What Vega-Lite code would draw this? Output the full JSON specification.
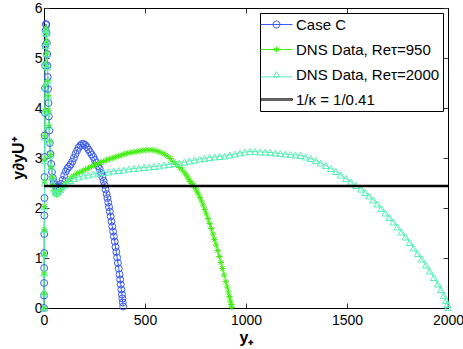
{
  "$schema": "https://vega.github.io/schema/vega-lite/v6.json",
  "width": 404,
  "height": 300,
  "autosize": "none",
  "padding": {"left": 44, "top": 8, "right": 15, "bottom": 41},
  "background": "white",
  "config": {
    "view": {"stroke": "black", "strokeWidth": 1},
    "font": "Liberation Sans",
    "axis": {
      "grid": false,
      "domainColor": "black",
      "tickColor": "#333333",
      "tickSize": -5,
      "labelFlush": false,
      "labelFont": "Liberation Sans",
      "labelFontSize": 14,
      "labelColor": "black",
      "titleFont": "Liberation Sans",
      "titleFontSize": 16,
      "titleFontWeight": "bold",
      "titleColor": "black"
    }
  },
  "data": {
    "values": [
      {"s":"C","x":0,"y":0},{"s":"C","x":0.25,"y":0.25},{"s":"C","x":0.5,"y":0.5},{"s":"C","x":0.8,"y":0.8},{"s":"C","x":1.1,"y":1.1},{"s":"C","x":1.5,"y":1.48},{"s":"C","x":1.9,"y":1.85},{"s":"C","x":2.3,"y":2.2},{"s":"C","x":2.8,"y":2.62},{"s":"C","x":3.3,"y":3.02},{"s":"C","x":3.9,"y":3.45},{"s":"C","x":4.6,"y":3.9},{"s":"C","x":5.4,"y":4.4},{"s":"C","x":6.3,"y":4.85},{"s":"C","x":7.3,"y":5.25},{"s":"C","x":8.4,"y":5.55},{"s":"C","x":9.6,"y":5.68},{"s":"C","x":11,"y":5.66},{"s":"C","x":12.5,"y":5.5},{"s":"C","x":14,"y":5.3},{"s":"C","x":15.5,"y":5.08},{"s":"C","x":17,"y":4.85},{"s":"C","x":18.5,"y":4.62},{"s":"C","x":20,"y":4.38},{"s":"C","x":22,"y":4.1},{"s":"C","x":24,"y":3.83},{"s":"C","x":26.5,"y":3.55},{"s":"C","x":29,"y":3.3},{"s":"C","x":32,"y":3.08},{"s":"C","x":35.5,"y":2.88},{"s":"C","x":39.5,"y":2.72},{"s":"C","x":44,"y":2.6},{"s":"C","x":49,"y":2.52},{"s":"C","x":55,"y":2.46},{"s":"C","x":62,"y":2.43},{"s":"C","x":69,"y":2.41},{"s":"C","x":76,"y":2.42},{"s":"C","x":84,"y":2.48},{"s":"C","x":92,"y":2.56},{"s":"C","x":100,"y":2.65},{"s":"C","x":108,"y":2.73},{"s":"C","x":116,"y":2.79},{"s":"C","x":124,"y":2.83},{"s":"C","x":132,"y":2.87},{"s":"C","x":140,"y":2.93},{"s":"C","x":148,"y":3.0},{"s":"C","x":156,"y":3.08},{"s":"C","x":164,"y":3.15},{"s":"C","x":172,"y":3.21},{"s":"C","x":180,"y":3.25},{"s":"C","x":188,"y":3.28},{"s":"C","x":196,"y":3.28},{"s":"C","x":204,"y":3.26},{"s":"C","x":212,"y":3.22},{"s":"C","x":220,"y":3.17},{"s":"C","x":228,"y":3.12},{"s":"C","x":236,"y":3.07},{"s":"C","x":244,"y":3.02},{"s":"C","x":252,"y":2.96},{"s":"C","x":260,"y":2.9},{"s":"C","x":268,"y":2.84},{"s":"C","x":276,"y":2.78},{"s":"C","x":283,"y":2.7},{"s":"C","x":289,"y":2.62},{"s":"C","x":295,"y":2.54},{"s":"C","x":300,"y":2.46},{"s":"C","x":305,"y":2.37},{"s":"C","x":310,"y":2.28},{"s":"C","x":314,"y":2.2},{"s":"C","x":318,"y":2.11},{"s":"C","x":322,"y":2.02},{"s":"C","x":326,"y":1.93},{"s":"C","x":330,"y":1.83},{"s":"C","x":334,"y":1.73},{"s":"C","x":338,"y":1.63},{"s":"C","x":342,"y":1.53},{"s":"C","x":346,"y":1.43},{"s":"C","x":350,"y":1.33},{"s":"C","x":354,"y":1.22},{"s":"C","x":358,"y":1.12},{"s":"C","x":362,"y":1.01},{"s":"C","x":366,"y":0.9},{"s":"C","x":370,"y":0.79},{"s":"C","x":374,"y":0.67},{"s":"C","x":377,"y":0.57},{"s":"C","x":380,"y":0.47},{"s":"C","x":383,"y":0.37},{"s":"C","x":386,"y":0.27},{"s":"C","x":388,"y":0.19},{"s":"C","x":390,"y":0.11},{"s":"C","x":392,"y":0.03},

      {"s":"D950","x":0,"y":0},{"s":"D950","x":0.3,"y":0.3},{"s":"D950","x":0.7,"y":0.7},{"s":"D950","x":1.1,"y":1.09},{"s":"D950","x":1.6,"y":1.57},{"s":"D950","x":2.1,"y":2.03},{"s":"D950","x":2.7,"y":2.52},{"s":"D950","x":3.3,"y":2.98},{"s":"D950","x":4,"y":3.45},{"s":"D950","x":4.8,"y":3.95},{"s":"D950","x":5.7,"y":4.45},{"s":"D950","x":6.7,"y":4.9},{"s":"D950","x":7.8,"y":5.28},{"s":"D950","x":9,"y":5.52},{"s":"D950","x":10.3,"y":5.6},{"s":"D950","x":11.7,"y":5.52},{"s":"D950","x":13.2,"y":5.33},{"s":"D950","x":14.8,"y":5.1},{"s":"D950","x":16.5,"y":4.83},{"s":"D950","x":18.3,"y":4.55},{"s":"D950","x":20.3,"y":4.25},{"s":"D950","x":22.5,"y":3.95},{"s":"D950","x":25,"y":3.65},{"s":"D950","x":28,"y":3.35},{"s":"D950","x":31.5,"y":3.07},{"s":"D950","x":35.5,"y":2.82},{"s":"D950","x":40,"y":2.62},{"s":"D950","x":45,"y":2.47},{"s":"D950","x":50,"y":2.36},{"s":"D950","x":56,"y":2.29},{"s":"D950","x":62,"y":2.27},{"s":"D950","x":68,"y":2.28},{"s":"D950","x":75,"y":2.31},{"s":"D950","x":82,"y":2.35},{"s":"D950","x":90,"y":2.4},{"s":"D950","x":100,"y":2.46},{"s":"D950","x":115,"y":2.53},{"s":"D950","x":130,"y":2.59},{"s":"D950","x":145,"y":2.64},{"s":"D950","x":160,"y":2.68},{"s":"D950","x":175,"y":2.71},{"s":"D950","x":190,"y":2.74},{"s":"D950","x":205,"y":2.77},{"s":"D950","x":220,"y":2.8},{"s":"D950","x":235,"y":2.83},{"s":"D950","x":250,"y":2.86},{"s":"D950","x":265,"y":2.88},{"s":"D950","x":280,"y":2.91},{"s":"D950","x":295,"y":2.93},{"s":"D950","x":310,"y":2.96},{"s":"D950","x":325,"y":2.98},{"s":"D950","x":340,"y":3.0},{"s":"D950","x":355,"y":3.02},{"s":"D950","x":370,"y":3.04},{"s":"D950","x":385,"y":3.06},{"s":"D950","x":400,"y":3.08},{"s":"D950","x":415,"y":3.1},{"s":"D950","x":430,"y":3.11},{"s":"D950","x":445,"y":3.12},{"s":"D950","x":460,"y":3.13},{"s":"D950","x":475,"y":3.14},{"s":"D950","x":490,"y":3.15},{"s":"D950","x":505,"y":3.16},{"s":"D950","x":520,"y":3.16},{"s":"D950","x":535,"y":3.16},{"s":"D950","x":550,"y":3.15},{"s":"D950","x":565,"y":3.13},{"s":"D950","x":580,"y":3.11},{"s":"D950","x":595,"y":3.08},{"s":"D950","x":610,"y":3.04},{"s":"D950","x":625,"y":2.99},{"s":"D950","x":640,"y":2.93},{"s":"D950","x":655,"y":2.87},{"s":"D950","x":670,"y":2.81},{"s":"D950","x":685,"y":2.76},{"s":"D950","x":697,"y":2.7},{"s":"D950","x":707,"y":2.64},{"s":"D950","x":716,"y":2.58},{"s":"D950","x":724,"y":2.53},{"s":"D950","x":732,"y":2.49},{"s":"D950","x":740,"y":2.45},{"s":"D950","x":748,"y":2.4},{"s":"D950","x":756,"y":2.34},{"s":"D950","x":764,"y":2.28},{"s":"D950","x":772,"y":2.21},{"s":"D950","x":780,"y":2.14},{"s":"D950","x":788,"y":2.06},{"s":"D950","x":796,"y":1.97},{"s":"D950","x":804,"y":1.88},{"s":"D950","x":812,"y":1.79},{"s":"D950","x":820,"y":1.69},{"s":"D950","x":828,"y":1.59},{"s":"D950","x":836,"y":1.48},{"s":"D950","x":844,"y":1.37},{"s":"D950","x":852,"y":1.26},{"s":"D950","x":860,"y":1.15},{"s":"D950","x":868,"y":1.03},{"s":"D950","x":876,"y":0.91},{"s":"D950","x":884,"y":0.79},{"s":"D950","x":892,"y":0.66},{"s":"D950","x":900,"y":0.53},{"s":"D950","x":907,"y":0.42},{"s":"D950","x":913,"y":0.32},{"s":"D950","x":918,"y":0.23},{"s":"D950","x":923,"y":0.14},{"s":"D950","x":927,"y":0.07},{"s":"D950","x":930,"y":0.01},

      {"s":"D2000","x":0,"y":0},{"s":"D2000","x":0.3,"y":0.3},{"s":"D2000","x":0.7,"y":0.7},{"s":"D2000","x":1.1,"y":1.09},{"s":"D2000","x":1.6,"y":1.57},{"s":"D2000","x":2.1,"y":2.02},{"s":"D2000","x":2.7,"y":2.5},{"s":"D2000","x":3.3,"y":2.95},{"s":"D2000","x":4,"y":3.42},{"s":"D2000","x":4.8,"y":3.92},{"s":"D2000","x":5.7,"y":4.42},{"s":"D2000","x":6.7,"y":4.87},{"s":"D2000","x":7.8,"y":5.25},{"s":"D2000","x":9,"y":5.5},{"s":"D2000","x":10.3,"y":5.57},{"s":"D2000","x":11.7,"y":5.5},{"s":"D2000","x":13.2,"y":5.31},{"s":"D2000","x":14.8,"y":5.08},{"s":"D2000","x":16.5,"y":4.82},{"s":"D2000","x":18.3,"y":4.54},{"s":"D2000","x":20.3,"y":4.24},{"s":"D2000","x":22.5,"y":3.94},{"s":"D2000","x":25,"y":3.64},{"s":"D2000","x":28,"y":3.34},{"s":"D2000","x":31.5,"y":3.06},{"s":"D2000","x":35.5,"y":2.82},{"s":"D2000","x":40,"y":2.62},{"s":"D2000","x":45,"y":2.48},{"s":"D2000","x":50,"y":2.38},{"s":"D2000","x":56,"y":2.32},{"s":"D2000","x":62,"y":2.3},{"s":"D2000","x":70,"y":2.32},{"s":"D2000","x":80,"y":2.37},{"s":"D2000","x":90,"y":2.42},{"s":"D2000","x":100,"y":2.46},{"s":"D2000","x":115,"y":2.51},{"s":"D2000","x":130,"y":2.55},{"s":"D2000","x":150,"y":2.59},{"s":"D2000","x":170,"y":2.62},{"s":"D2000","x":195,"y":2.64},{"s":"D2000","x":220,"y":2.66},{"s":"D2000","x":245,"y":2.68},{"s":"D2000","x":270,"y":2.7},{"s":"D2000","x":295,"y":2.71},{"s":"D2000","x":320,"y":2.72},{"s":"D2000","x":345,"y":2.74},{"s":"D2000","x":370,"y":2.75},{"s":"D2000","x":395,"y":2.76},{"s":"D2000","x":420,"y":2.78},{"s":"D2000","x":445,"y":2.79},{"s":"D2000","x":470,"y":2.8},{"s":"D2000","x":495,"y":2.81},{"s":"D2000","x":520,"y":2.82},{"s":"D2000","x":545,"y":2.83},{"s":"D2000","x":570,"y":2.84},{"s":"D2000","x":595,"y":2.86},{"s":"D2000","x":620,"y":2.87},{"s":"D2000","x":645,"y":2.89},{"s":"D2000","x":670,"y":2.9},{"s":"D2000","x":695,"y":2.92},{"s":"D2000","x":720,"y":2.94},{"s":"D2000","x":745,"y":2.96},{"s":"D2000","x":770,"y":2.98},{"s":"D2000","x":795,"y":2.99},{"s":"D2000","x":820,"y":3.01},{"s":"D2000","x":845,"y":3.02},{"s":"D2000","x":870,"y":3.03},{"s":"D2000","x":895,"y":3.04},{"s":"D2000","x":920,"y":3.06},{"s":"D2000","x":945,"y":3.08},{"s":"D2000","x":970,"y":3.1},{"s":"D2000","x":995,"y":3.12},{"s":"D2000","x":1020,"y":3.13},{"s":"D2000","x":1045,"y":3.13},{"s":"D2000","x":1070,"y":3.12},{"s":"D2000","x":1095,"y":3.12},{"s":"D2000","x":1120,"y":3.11},{"s":"D2000","x":1145,"y":3.1},{"s":"D2000","x":1170,"y":3.09},{"s":"D2000","x":1195,"y":3.08},{"s":"D2000","x":1220,"y":3.07},{"s":"D2000","x":1245,"y":3.06},{"s":"D2000","x":1270,"y":3.05},{"s":"D2000","x":1295,"y":3.02},{"s":"D2000","x":1320,"y":2.99},{"s":"D2000","x":1345,"y":2.95},{"s":"D2000","x":1370,"y":2.9},{"s":"D2000","x":1395,"y":2.85},{"s":"D2000","x":1420,"y":2.79},{"s":"D2000","x":1445,"y":2.73},{"s":"D2000","x":1470,"y":2.66},{"s":"D2000","x":1495,"y":2.59},{"s":"D2000","x":1520,"y":2.52},{"s":"D2000","x":1545,"y":2.45},{"s":"D2000","x":1570,"y":2.38},{"s":"D2000","x":1590,"y":2.31},{"s":"D2000","x":1610,"y":2.24},{"s":"D2000","x":1630,"y":2.16},{"s":"D2000","x":1650,"y":2.08},{"s":"D2000","x":1670,"y":1.99},{"s":"D2000","x":1690,"y":1.9},{"s":"D2000","x":1710,"y":1.81},{"s":"D2000","x":1730,"y":1.72},{"s":"D2000","x":1750,"y":1.62},{"s":"D2000","x":1770,"y":1.52},{"s":"D2000","x":1790,"y":1.42},{"s":"D2000","x":1810,"y":1.31},{"s":"D2000","x":1830,"y":1.2},{"s":"D2000","x":1850,"y":1.09},{"s":"D2000","x":1870,"y":0.98},{"s":"D2000","x":1890,"y":0.86},{"s":"D2000","x":1910,"y":0.74},{"s":"D2000","x":1930,"y":0.61},{"s":"D2000","x":1950,"y":0.48},{"s":"D2000","x":1965,"y":0.37},{"s":"D2000","x":1980,"y":0.25},{"s":"D2000","x":1990,"y":0.15},{"s":"D2000","x":1997,"y":0.07},{"s":"D2000","x":2000,"y":0.01},

      {"s":"K","x":0,"y":2.439},{"s":"K","x":2000,"y":2.439}
    ]
  },
  "layer": [
    {
      "transform": [{"filter": "datum.s !== 'K'"}],
      "mark": {"type": "line", "strokeWidth": 1},
      "encoding": {
        "x": {"field": "x", "type": "quantitative", "scale": {"domain": [0, 2000], "nice": false, "zero": false},
              "axis": {"orient": "bottom", "title": "y₊", "values": [0, 500, 1000, 1500, 2000], "format": "d", "labelPadding": 10, "titlePadding": 2}},
        "y": {"field": "y", "type": "quantitative", "scale": {"domain": [0, 6], "nice": false, "zero": false},
              "axis": {"orient": "left", "title": "y∂yU⁺", "values": [0, 1, 2, 3, 4, 5, 6], "format": "d", "labelPadding": 7, "titlePadding": 8}},
        "stroke": {"field": "s", "type": "nominal",
                  "scale": {"domain": ["C", "D950", "D2000", "K"], "range": ["#3a5af0", "#40ee10", "#5cf0b8", "#000000"]},
                  "legend": null},
        "detail": {"field": "s"}
      }
    },
    {
      "transform": [{"filter": "datum.s === 'C'"}],
      "mark": {"type": "point", "shape": "circle", "filled": false, "strokeWidth": 1, "size": 48, "opacity": 1},
      "encoding": {
        "x": {"field": "x", "type": "quantitative", "scale": {"domain": [0, 2000], "nice": false, "zero": false},
              "axis": {"orient": "top", "labels": false, "title": null, "values": [0, 500, 1000, 1500, 2000]}},
        "y": {"field": "y", "type": "quantitative", "scale": {"domain": [0, 6], "nice": false, "zero": false},
              "axis": {"orient": "right", "labels": false, "title": null, "values": [0, 1, 2, 3, 4, 5, 6]}},
        "stroke": {"field": "s", "type": "nominal", "legend": null}
      }
    },
    {
      "transform": [{"filter": "datum.s === 'D950'"}],
      "mark": {"type": "point", "shape": "M-1,0L1,0M0,-1L0,1M-0.7,-0.7L0.7,0.7M-0.7,0.7L0.7,-0.7", "filled": false, "strokeWidth": 1, "size": 40, "opacity": 1},
      "encoding": {
        "x": {"field": "x", "type": "quantitative", "scale": {"domain": [0, 2000], "nice": false, "zero": false}, "axis": null},
        "y": {"field": "y", "type": "quantitative", "scale": {"domain": [0, 6], "nice": false, "zero": false}, "axis": null},
        "stroke": {"field": "s", "type": "nominal", "legend": null}
      }
    },
    {
      "transform": [{"filter": "datum.s === 'D2000'"}],
      "mark": {"type": "point", "shape": "triangle-up", "filled": false, "strokeWidth": 1, "size": 48, "opacity": 1},
      "encoding": {
        "x": {"field": "x", "type": "quantitative", "scale": {"domain": [0, 2000], "nice": false, "zero": false}, "axis": null},
        "y": {"field": "y", "type": "quantitative", "scale": {"domain": [0, 6], "nice": false, "zero": false}, "axis": null},
        "stroke": {"field": "s", "type": "nominal", "legend": null}
      }
    },
    {
      "transform": [{"filter": "datum.s === 'K'"}],
      "mark": {"type": "line", "strokeWidth": 2.5},
      "encoding": {
        "x": {"field": "x", "type": "quantitative", "scale": {"domain": [0, 2000], "nice": false, "zero": false}, "axis": null},
        "y": {"field": "y", "type": "quantitative", "scale": {"domain": [0, 6], "nice": false, "zero": false}, "axis": null},
        "stroke": {"field": "s", "type": "nominal", "legend": null}
      }
    },
    {
      "transform": [{"filter": "false"}],
      "mark": {"type": "point", "filled": false, "opacity": 1, "strokeWidth": 1},
      "encoding": {
        "x": {"field": "x", "type": "quantitative", "scale": {"domain": [0, 2000], "nice": false, "zero": false}, "axis": null},
        "y": {"field": "y", "type": "quantitative", "scale": {"domain": [0, 6], "nice": false, "zero": false}, "axis": null},
        "color": {"field": "label", "type": "nominal",
                  "scale": {"domain": ["Case C", "DNS Data, Reτ=950", "DNS Data, Reτ=2000", "1/κ = 1/0.41"], "range": ["#3a5af0", "#40ee10", "#5cf0b8", "#000000"]},
                  "legend": {
                    "orient": "none", "legendX": 216, "legendY": 5, "title": null,
                    "labelFont": "Liberation Sans", "labelFontSize": 15, "labelColor": "black", "labelLimit": 300,
                    "symbolSize": 256, "symbolOffset": 5, "labelOffset": 11, "rowPadding": 8, "padding": 3,
                    "symbolStrokeWidth": 1, "symbolOpacity": 1,
                    "strokeColor": "black", "fillColor": "white", "cornerRadius": 0
                  }},
        "shape": {"field": "label", "type": "nominal",
                  "scale": {"domain": ["Case C", "DNS Data, Reτ=950", "DNS Data, Reτ=2000", "1/κ = 1/0.41"],
                            "range": [
                              "M-2,0L2,0M-0.44,0A0.44,0.44 0 1,0 0.44,0A0.44,0.44 0 1,0 -0.44,0",
                              "M-2,0L2,0M0,-0.4L0,0.4M-0.35,-0.2L0.35,0.2M-0.35,0.2L0.35,-0.2",
                              "M-2,0.3L2,0.3M0,-0.35L0.4,0.3L-0.4,0.3Z",
                              "M-2,-0.08L2,-0.08L2,0.08L-2,0.08Z"
                            ]},
                  "legend": {
                    "orient": "none", "legendX": 216, "legendY": 5, "title": null,
                    "labelFont": "Liberation Sans", "labelFontSize": 15, "labelColor": "black", "labelLimit": 300,
                    "symbolSize": 256, "symbolOffset": 5, "labelOffset": 11, "rowPadding": 8, "padding": 3,
                    "symbolStrokeWidth": 1, "symbolOpacity": 1,
                    "strokeColor": "black", "fillColor": "white", "cornerRadius": 0
                  }}
      }
    }
  ],
  "resolve": {"axis": {"x": "independent", "y": "independent"}}
}
